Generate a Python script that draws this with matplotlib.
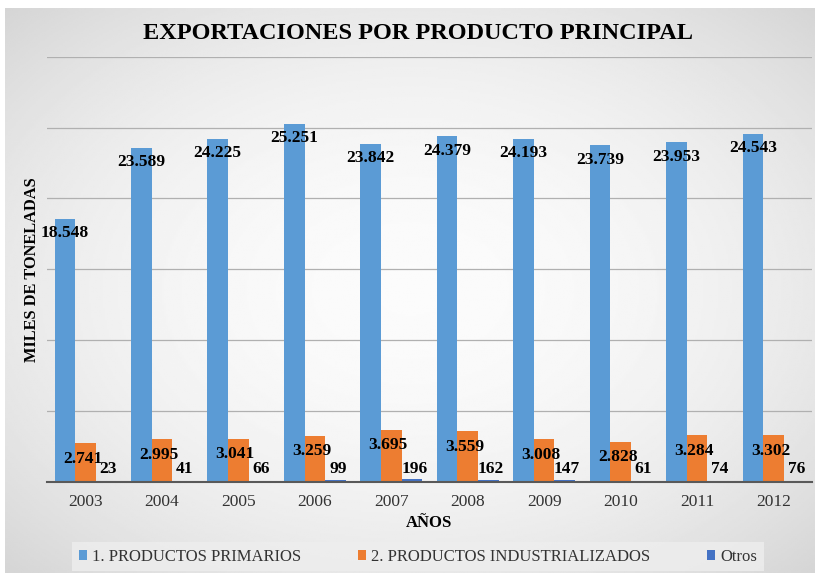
import numpy as np
import matplotlib.pyplot as plt

# data
years = ['2003', '2004', '2005', '2006', '2007', '2008', '2009', '2010', '2011', '2012']
primarios = [18548, 23589, 24225, 25251, 23842, 24379, 24193, 23739, 23953, 24543]
industrializados = [2741, 2995, 3041, 3259, 3695, 3559, 3008, 2828, 3284, 3302]
otros = [23, 41, 66, 99, 196, 162, 147, 61, 74, 76]

series_names = ['1. PRODUCTOS PRIMARIOS', '2. PRODUCTOS INDUSTRIALIZADOS', 'Otros']
colors = ['#5b9bd5', '#ed7d31', '#4472c4']


def fmt(v):
    return '{:,}'.format(v).replace(',', '.')


plt.rcParams['font.family'] = ['Liberation Serif', 'DejaVu Serif']

fig = plt.figure(figsize=(8.15, 5.73), dpi=100)
fig.patch.set_facecolor('white')

# gray background panel, lighter in the middle
bg = fig.add_axes([0.006, 0, 0.994, 0.986], zorder=-10)
yy, xx = np.mgrid[-1:1:300j, -1:1:400j]
r2 = xx ** 2 + yy ** 2
shade = np.clip(0.985 - 0.075 * r2, 0, 1)
bg.imshow(shade, cmap='gray', vmin=0, vmax=1, aspect='auto', extent=[0, 1, 0, 1])
bg.axis('off')

ax = fig.add_axes([0.058, 0.159, 0.938, 0.742])
ax.patch.set_alpha(0)

x = np.arange(len(years))
w = 0.27
b1 = ax.bar(x - w, primarios, w, color=colors[0], label=series_names[0], zorder=3)
b2 = ax.bar(x, industrializados, w, color=colors[1], label=series_names[1], zorder=3)
b3 = ax.bar(x + w, otros, w, color=colors[2], label=series_names[2], zorder=3)

ax.set_xlim(-0.5, len(years) - 0.5)
ax.set_ylim(0, 30000)
ax.set_yticks(np.arange(5000, 30001, 5000))
ax.set_yticklabels([])
ax.tick_params(axis='y', length=0)
ax.tick_params(axis='x', length=0, labelsize=12.5, pad=9)
ax.set_xticks(x)
ax.set_xticklabels(years, color='#333333')
ax.grid(axis='y', color='#b0b0b0', linewidth=0.9, zorder=0)
for s in ['top', 'right', 'left']:
    ax.spines[s].set_visible(False)
ax.spines['bottom'].set_color('#595959')
ax.spines['bottom'].set_linewidth(1.5)
ax.spines['bottom'].set_zorder(4)

lab = dict(fontsize=12.5, fontweight='bold', ha='center', va='center', zorder=5)
for i in range(len(years)):
    ax.text(x[i] - w, primarios[i] - 1000, fmt(primarios[i]), **lab)
    ax.text(x[i] - 0.04, industrializados[i] - 1100, fmt(industrializados[i]), **lab)
    ax.text(x[i] + w + 0.03, 900, fmt(otros[i]), **lab)

ax.set_xlabel('AÑOS', fontsize=12, fontweight='bold', labelpad=3)
ax.set_ylabel('MILES DE TONELADAS', fontsize=11.8, fontweight='bold', labelpad=2)

fig.text(0.513, 0.942, 'EXPORTACIONES POR PRODUCTO PRINCIPAL', ha='center',
         va='center', fontsize=17.5, fontweight='bold')

leg = fig.legend(handles=[b1, b2, b3], loc='lower center', bbox_to_anchor=(0.513, 0.0),
                 ncol=3, prop={'family': 'Liberation Serif', 'size': 12},
                 frameon=True, fancybox=False,
                 handlelength=0.5, handleheight=0.5, handletextpad=0.3,
                 columnspacing=3.4, borderpad=0.4, borderaxespad=0.1)
leg.get_frame().set_facecolor('#eeeeee')
leg.get_frame().set_edgecolor('none')
for t in leg.get_texts():
    t.set_color('#333333')

fig.savefig('out.png', dpi=100)
